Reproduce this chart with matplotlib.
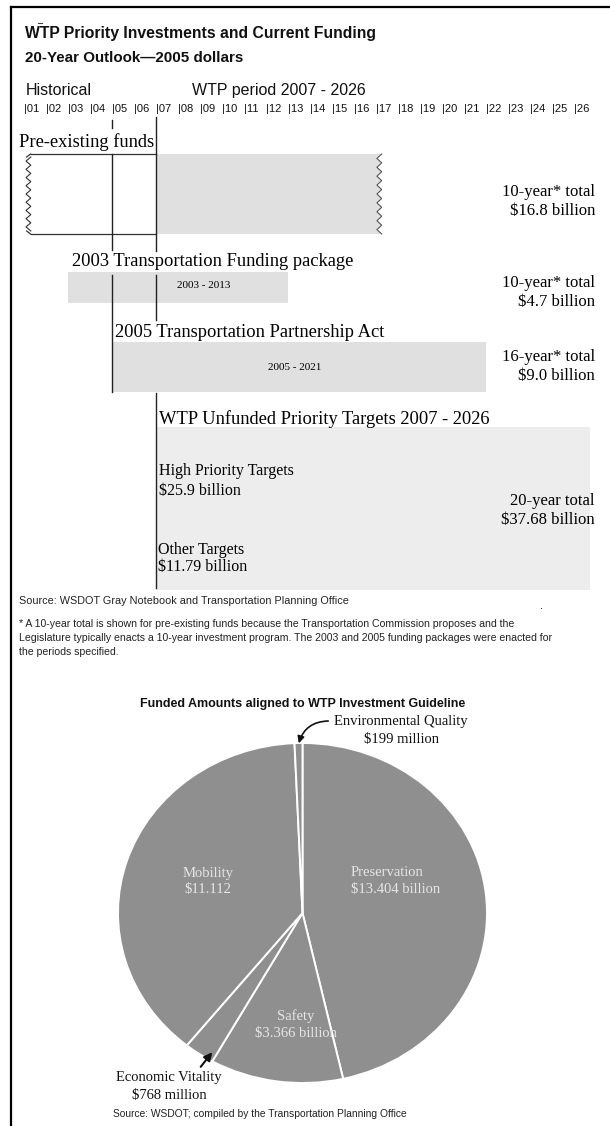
import numpy as np
import matplotlib
matplotlib.use("Agg")
import matplotlib.pyplot as plt

plt.rcParams['font.family'] = ['Liberation Sans', 'DejaVu Sans']
SERIF = ['Liberation Serif', 'DejaVu Serif']

# ---- timeline data ----
years = list(range(2001, 2027))
year_labels = ["|%02d" % (y % 100) for y in years]

pre_hist = (2001, 2007)        # pre-existing funds, historical years
pre_wtp = (2007, 2017)         # pre-existing funds inside WTP period (10 years)
pkg_2003 = (2003, 2013)
pkg_2005 = (2005, 2021)
unfunded = (2007, 2026)

total_top = ["10-year* total", "10-year* total", "16-year* total", "20-year total"]
total_amt = [16.8, 4.7, 9.0, 37.68]
total_dec = [1, 1, 1, 2]
high_priority = 25.9
other_targets = 11.79

# ---- pie data (billions) ----
pie_names = ["Preservation", "Safety", "Economic Vitality", "Mobility",
             "Environmental Quality"]
pie_values = [13.404, 3.366, 0.768, 11.112, 0.199]

W, H = 610, 1126
fig = plt.figure(figsize=(W / 100, H / 100), dpi=100)
fig.patch.set_facecolor("white")


# timeline axes: x in years, y in pixels
def px2yr(px):
    return 2001 + (px - 24) / 22.0


tl = fig.add_axes([0, 0, 1, 1])
tl.set_xlim(px2yr(0), px2yr(W))
tl.set_ylim(H, 0)
tl.axis("off")

# pie axes (slightly flattened ellipse)
pl, pr, pt, pb = 118, 487, 743, 1083
pa = fig.add_axes([pl / W, 1 - pb / H, (pr - pl) / W, (pb - pt) / H])
pa.pie(pie_values, startangle=90, counterclock=False, colors=["#8f8f8f"] * 5,
       wedgeprops=dict(edgecolor="white", linewidth=1.4))
pa.set_aspect("auto")
pa.set_xlim(-1, 1)
pa.set_ylim(-1, 1)
pa.axis("off")

# page axes in pixels, for text and frame
ax = fig.add_axes([0, 0, 1, 1])
ax.set_xlim(0, W)
ax.set_ylim(H, 0)
ax.axis("off")
ax.patch.set_alpha(0)

# frame
ax.plot([11, 11], [H, 7], color="black", lw=1.6)
ax.plot([11, W], [7, 7], color="black", lw=1.6)
ax.plot([38, 42], [23, 23], color="#444444", lw=0.8)

ink = "#111111"
ax.text(25, 38, "WTP Priority Investments and Current Funding", fontsize=11.3,
        fontweight="bold", va="baseline", color=ink)
ax.text(25, 62, "20-Year Outlook\u20142005 dollars", fontsize=10.9,
        fontweight="bold", va="baseline", color=ink)
ax.text(26, 95, "Historical", fontsize=11.5, va="baseline", color=ink)
ax.text(192, 95, "WTP period 2007 - 2026", fontsize=11.5, va="baseline",
        color=ink)
for y, lab in zip(years, year_labels):
    tl.text(y, 112, lab, fontsize=8, va="baseline", ha="left", color=ink)

bar_gray = "#e0e0e0"


# zigzag edge for the cut-off box ends
def wave(x0, y0, y1, amp=0.11, n=9):
    ys = np.linspace(y0, y1, 200)
    xs = x0 + amp * np.abs(((ys - y0) / (y1 - y0) * n * 2) % 2 - 1) * 2 - amp
    return xs, ys


# pre-existing funds box
box_top, box_bot = 154, 234
wx, wy = wave(pre_wtp[1] + 0.15, box_top, box_bot)
tl.fill(np.r_[pre_wtp[0], wx, pre_wtp[0]], np.r_[box_top, wy, box_bot],
        color=bar_gray, lw=0, zorder=1)
tl.plot(wx, wy, color="#555555", lw=0.8, zorder=2)
lx, ly = wave(pre_hist[0] + 0.2, box_top + 3, box_bot - 3)
tl.plot(lx, ly, color="#333333", lw=0.8, zorder=2)
for yy, yc in [(box_top, box_top + 3), (box_bot, box_bot - 3)]:
    tl.plot([pre_hist[0] + 0.3, pre_hist[1]], [yy, yy], color="#333333", lw=0.9)
    tl.plot([pre_hist[0] + 0.12, pre_hist[0] + 0.3], [yc, yy], color="#333333", lw=0.9)
ax.text(19, 147, "Pre-existing funds", fontsize=13.3, family=SERIF, va="baseline")

# 2003 package
tl.barh(287.5, pkg_2003[1] - pkg_2003[0], left=pkg_2003[0], height=31,
        color=bar_gray, lw=0, zorder=1)
ax.text(72, 266, "2003 Transportation Funding package", fontsize=13.3,
        family=SERIF, va="baseline")
ax.text(177, 286, "%d - %d" % pkg_2003, fontsize=8, family=SERIF,
        va="center")

# 2005 package, drawn through the end of its last year
tl.barh(367, pkg_2005[1] + 1 - pkg_2005[0], left=pkg_2005[0], height=50,
        color=bar_gray, lw=0, zorder=1)
ax.text(115, 337, "2005 Transportation Partnership Act", fontsize=13.3,
        family=SERIF, va="baseline")
ax.text(295, 368, "%d - %d" % pkg_2005, fontsize=8, family=SERIF,
        va="center", ha="center")

# unfunded targets
tl.barh(508.5, unfunded[1] + 0.75 - unfunded[0], left=unfunded[0], height=163,
        color="#ededed", lw=0, zorder=1)
ax.text(159, 424, "WTP Unfunded Priority Targets %d - %d" % unfunded,
        fontsize=13.3, family=SERIF, va="baseline")
ax.text(159, 471, "High Priority Targets", fontsize=11.5, family=SERIF, va="center")
ax.text(159, 491, "$%.1f billion" % high_priority, fontsize=11.5, family=SERIF, va="center")
ax.text(158, 550, "Other Targets", fontsize=11.5, family=SERIF, va="center")
ax.text(158, 567, "$%.2f billion" % other_targets, fontsize=11.5, family=SERIF, va="center")

# year marker lines
lc = "#222222"
for y0, y1 in [(120, 128), (154, 250), (275, 392)]:
    tl.plot([2005, 2005], [y0, y1], color=lc, lw=1.0, zorder=3)
for y0, y1 in [(117, 251), (275, 320), (393, 588)]:
    tl.plot([2007, 2007], [y0, y1], color=lc, lw=1.0, zorder=3)

for ty, top, amt, d in zip([192, 283, 357, 501], total_top, total_amt, total_dec):
    ax.text(595, ty, top, fontsize=12, family=SERIF, va="center", ha="right")
    ax.text(595, ty + 19, "$%.*f billion" % (d, amt),
            fontsize=12, family=SERIF, va="center", ha="right")

ax.text(19, 601, "Source: WSDOT Gray Notebook and Transportation Planning Office",
        fontsize=7.8, va="center", color="#222222")
ax.text(540, 606, ".", fontsize=8, va="center")
ax.text(19, 638,
        "* A 10-year total is shown for pre-existing funds because the Transportation "
        "Commission proposes and the\nLegislature typically enacts a 10-year investment "
        "program. The 2003 and 2005 funding packages were enacted for\nthe periods specified.",
        fontsize=7.6, va="center", color="#222222", linespacing=1.55)

# ---- pie labels ----
ax.text(303, 704, "Funded Amounts aligned to WTP Investment Guideline",
        fontsize=9, fontweight="bold", ha="center", va="center", color=ink)

lab_col = "#e6e6e6"
pf = dict(fontsize=10.5, family=SERIF, va="center", color=lab_col)
ax.text(208, 873, pie_names[3], ha="center", **pf)
ax.text(208, 890, "$%.3f" % pie_values[3], ha="center", **pf)
ax.text(351, 872, pie_names[0], ha="left", **pf)
ax.text(351, 889, "$%.3f billion" % pie_values[0], ha="left", **pf)
ax.text(296, 1016, pie_names[1], ha="center", **pf)
ax.text(296, 1033, "$%.3f billion" % pie_values[1], ha="center", **pf)

of = dict(fontsize=10.5, family=SERIF, va="center", color=ink)
ax.text(401, 722, pie_names[4], ha="center", **of)
ax.text(401, 739, "$%d million" % round(pie_values[4] * 1000), ha="center", **of)
ax.annotate("", xy=(298, 746), xytext=(331, 721),
            arrowprops=dict(arrowstyle="-|>", color=ink, lw=1.2,
                            connectionstyle="arc3,rad=0.4", mutation_scale=10))
ax.text(169, 1078, pie_names[2], ha="center", **of)
ax.text(169, 1095, "$%d million" % round(pie_values[2] * 1000), ha="center", **of)
ax.annotate("", xy=(214, 1050), xytext=(199, 1069),
            arrowprops=dict(arrowstyle="-|>", color=ink, lw=1.5,
                            mutation_scale=12))
ax.text(113, 1114, "Source: WSDOT; compiled by the Transportation Planning Office",
        fontsize=7.4, va="center", color="#222222")

fig.savefig("out.png", dpi=100)
